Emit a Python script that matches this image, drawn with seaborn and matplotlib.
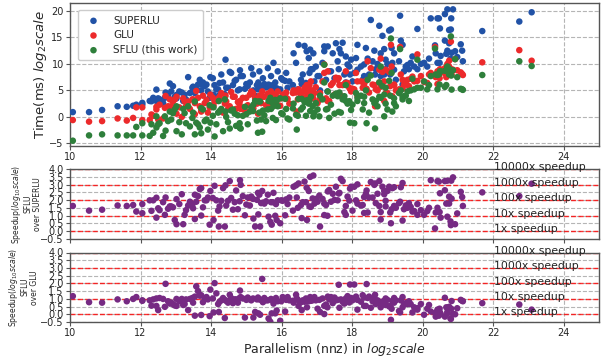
import numpy as np
import pandas as pd
import matplotlib
matplotlib.use("Agg")
import matplotlib.pyplot as plt
import seaborn as sns

# ---- data: log2(nnz) and log2(time ms) per matrix, grouped by parallelism range ----
x_ab = [10.08, 10.54, 10.91, 11.35, 11.61, 11.79, 11.88, 12.05, 12.05, 12.26, 12.31, 12.36, 12.45, 12.45, 12.50, 12.54, 12.64, 12.69, 12.71,
        12.78, 12.83, 12.87, 12.92, 12.97, 13.02, 13.02, 13.10, 13.17, 13.21, 13.25, 13.29, 13.35, 13.40, 13.47]
superlu_ab = [0.9, 0.9, 1.3, 2.0, 1.9, 2.1, 2.3, 2.65, 2.3, 3.0, 2.95, 3.6, 5.15, 3.0, 3.5, 3.3, 2.6, 3.6, 4.6,
              4.0, 6.3, 4.8, 5.8, 3.8, 4.15, 3.5, 4.8, 4.6, 3.0, 4.2, 3.3, 7.5, 4.5, 5.5]
glu_ab = [-0.6, -0.9, -0.8, -0.3, -0.7, -0.2, 1.8, 1.8, -0.6, -0.6, 0.45, 0.2, 1.4, 1.9, -0.5, 2.3, -0.3, 1.7, 3.95,
          2.0, 3.3, 2.0, 2.9, 3.3, 0.6, 3.8, 1.8, 0.0, 3.5, 2.9, 2.0, 2.9, 1.5, 3.3]
sflu_ab = [-4.5, -3.5, -3.3, -3.5, -3.5, -3.5, -1.9, -1.2, -3.5, -3.6, -1.4, -3.0, -2.0, 0.1, -1.4, -1.2, -3.6, 0.1, -2.6,
           -0.8, 1.0, -0.5, 0.7, 1.4, -2.7, 2.0, -1.0, -3.3, 1.5, 0.7, -1.2, 2.0, -1.8, -0.2]

x_c1 = [13.49, 13.54, 13.54, 13.58, 13.63, 13.68, 13.72, 13.72, 13.77, 13.82, 13.87, 13.91, 13.96, 13.98, 14.05, 14.07, 14.10, 14.15, 14.20, 14.22,
        14.24, 14.29, 14.34, 14.39, 14.41, 14.43, 14.48, 14.53, 14.57, 14.62, 14.67, 14.71, 14.76, 14.81, 14.82, 14.84, 14.90, 14.96, 15.00]
superlu_c1 = [5.7, 5.5, 4.5, 5.2, 6.1, 7.0, 6.1, 5.0, 6.5, 5.8, 6.1, 4.8, 3.6, 7.5, 7.3, 4.2, 6.0, 5.2, 5.2, 4.0,
              6.4, 8.0, 6.5, 4.3, 10.8, 5.5, 5.5, 8.5, 8.3, 6.0, 6.8, 7.0, 5.0, 5.2, 8.8, 7.7, 7.7, 5.3, 6.2]
glu_c1 = [3.3, 2.6, 0.5, 4.9, 3.6, 2.0, 1.0, 1.5, 4.0, 2.6, 3.2, 0.8, 1.8, 4.2, 3.6, 2.2, 3.0, 3.1, 3.0, 3.5,
          3.8, 4.5, 0.8, 2.5, 4.0, 2.9, 1.5, 2.0, 4.7, 3.8, 3.8, 1.5, 2.8, 2.3, 3.0, 1.5, 3.6, 1.2, 3.6]
sflu_c1 = [0.8, 2.9, -3.3, -1.1, -1.4, -2.0, -3.1, 1.65, 1.4, -0.8, -0.5, -2.4, 2.2, -1.1, 0.2, 1.8, -3.7, -1.4, 0.8, 3.0,
           1.1, 1.5, -2.7, 3.3, 1.0, 0.0, -1.0, -2.2, 1.2, 1.4, 0.6, -1.7, 0.3, -1.2, -2.1, -2.2, 0.2, 1.9, 0.5]

x_c2 = [15.04, 15.10, 15.14, 15.19, 15.20, 15.25, 15.30, 15.33, 15.34, 15.37, 15.39, 15.42, 15.45, 15.47, 15.51, 15.56, 15.61, 15.63, 15.68, 15.70,
        15.72, 15.75, 15.77, 15.82, 15.84, 15.86, 15.89, 15.96, 15.99, 16.03, 16.10, 16.13, 16.17, 16.22, 16.32, 16.34, 16.41, 16.43, 16.46, 16.48,
        16.55, 16.57, 16.60, 16.65, 16.69, 16.71, 16.72, 16.77, 16.79, 16.81, 16.83, 16.88, 16.90, 16.93, 16.97, 17.02]
superlu_c2 = [5.8, 6.5, 9.2, 8.0, 5.0, 4.0, 6.0, 5.2, 6.5, 8.6, 3.9, 5.5, 5.8, 7.3, 6.2, 5.6, 9.2, 6.1, 5.6, 7.7,
              4.2, 6.0, 10.2, 6.5, 5.2, 5.4, 8.6, 5.2, 7.3, 7.0, 6.8, 8.3, 5.5, 6.7, 6.0, 12.0, 10.2, 4.8, 5.2, 13.6,
              7.0, 6.2, 8.0, 13.4, 6.4, 12.4, 5.5, 11.1, 8.3, 12.7, 9.0, 9.0, 12.0, 6.7, 9.5, 7.7]
glu_c2 = [2.2, 4.2, 4.8, 4.5, 1.6, 3.5, 2.5, 0.6, 3.1, 4.0, 2.8, 2.6, 4.8, 3.8, 3.8, 2.2, 4.4, 2.1, 2.0, 4.8,
          3.0, 2.7, 4.3, 3.4, 2.9, 3.8, 4.8, 2.1, 3.5, 4.2, 4.0, 4.6, 3.4, 2.5, 4.5, 5.0, 4.6, 1.0, 3.3, 5.2,
          4.0, 4.3, 4.8, 5.5, 3.6, 6.0, 4.6, 5.3, 6.0, 4.8, 6.7, 5.0, 3.5, 4.5, 5.6, 2.6]
sflu_c2 = [-1.4, 1.0, 1.8, 1.1, 2.3, 3.0, -0.7, -3.0, 2.9, 0.8, 2.9, -0.5, -2.8, 1.2, 0.3, -0.8, 1.4, 3.0, 3.6, 1.5,
           2.8, -0.2, 2.0, 3.2, -0.6, 3.0, 2.0, 3.5, 0.7, 0.5, 3.4, 1.5, -0.3, -0.5, 1.6, 2.5, 0.4, -2.4, 0.2, 3.4,
           1.4, 3.4, 1.8, 2.8, 0.2, 3.1, 3.1, 2.5, 3.0, 1.1, 3.8, 2.0, 0.1, 0.8, 2.6, 1.4]

x_d1 = [17.07, 17.09, 17.16, 17.21, 17.21, 17.26, 17.30, 17.31, 17.35, 17.40, 17.45, 17.50, 17.54, 17.59, 17.62, 17.64, 17.68, 17.73, 17.78, 17.82,
        17.82, 17.87, 17.92, 17.94, 17.97, 18.01, 18.06, 18.11, 18.15, 18.15, 18.25, 18.30, 18.34, 18.34, 18.39, 18.41, 18.44, 18.48]
superlu_d1 = [7.7, 5.0, 10.2, 12.4, 13.3, 7.0, 4.8, 13.3, 8.6, 8.6, 12.0, 7.3, 13.9, 10.5, 9.0, 12.8, 12.0, 14.0, 8.0, 11.4,
              6.5, 9.9, 9.5, 8.0, 10.8, 6.7, 8.3, 11.1, 13.6, 8.9, 9.5, 7.0, 9.9, 7.7, 13.0, 7.5, 11.0, 8.0]
glu_d1 = [3.2, 4.5, 6.7, 8.3, 9.9, 3.5, 3.0, 8.6, 3.0, 6.0, 6.4, 4.2, 7.4, 7.0, 7.3, 6.0, 4.0, 6.0, 6.2, 8.6,
          6.4, 6.4, 5.5, 5.3, 4.8, 5.3, 5.2, 8.3, 6.7, 4.0, 6.7, 5.5, 6.2, 5.6, 6.8, 5.3, 10.5, 4.6]
sflu_d1 = [0.1, 4.0, 3.3, 6.5, 9.85, 1.4, 1.5, 4.8, -0.2, 2.3, 4.0, 0.6, 4.4, 3.9, 0.95, 4.6, 0.8, 3.3, 3.9, 6.0,
           3.0, 2.5, 2.96, -1.1, 1.3, 2.3, -1.2, 4.5, 3.6, 3.0, 4.0, 1.4, 2.6, 3.8, 5.0, -1.2, 7.0, 0.8]

x_d2 = [18.53, 18.58, 18.63, 18.65, 18.67, 18.72, 18.77, 18.77, 18.81, 18.81, 18.86, 18.91, 18.91, 18.95, 18.95, 19.00, 19.05, 19.08, 19.10, 19.12,
        19.14, 19.19, 19.19, 19.24, 19.33, 19.36, 19.38, 19.43, 19.43, 19.47, 19.52, 19.57, 19.61, 19.66, 19.71, 19.76, 19.85, 19.85, 19.95, 20.04,
        20.13, 20.18, 20.23, 20.35, 20.37, 20.42, 20.42]
superlu_d2 = [18.3, 10.5, 12.5, 8.0, 9.0, 10.0, 17.2, 9.2, 7.7, 12.0, 15.3, 12.8, 8.0, 10.8, 9.0, 10.0, 16.3, 8.0, 16.5, 13.0,
              10.2, 12.0, 8.9, 7.0, 10.5, 19.1, 14.4, 13.6, 6.1, 8.6, 9.5, 9.8, 9.0, 10.2, 11.4, 9.5, 16.6, 9.0, 10.0, 10.2,
              9.5, 11.0, 18.6, 13.5, 12.0, 18.6, 10.2]
glu_d2 = [9.2, 6.1, 6.0, 2.0, 5.2, 5.0, 8.9, 6.5, 5.7, 11.0, 8.5, 6.7, 3.0, 8.9, 4.5, 4.5, 8.5, 5.8, 13.6, 9.5,
          3.9, 6.1, 6.0, 5.0, 5.2, 13.2, 8.0, 7.0, 5.3, 6.0, 6.4, 7.0, 5.8, 7.2, 7.6, 6.7, 11.8, 6.8, 7.7, 6.6,
          6.4, 8.0, 8.3, 13.2, 7.5, 8.6, 6.2]
sflu_d2 = [7.8, 3.3, 2.6, -2.2, 3.0, 2.0, 6.5, 3.8, 3.6, 9.5, 5.8, 4.2, 0.1, 5.5, 2.5, 1.4, 6.8, 4.0, 14.8, 8.3,
           1.0, 2.6, 3.5, 2.0, 4.5, 12.8, 5.0, 3.3, 3.8, 3.9, 4.0, 4.8, 3.0, 5.0, 7.2, 5.2, 10.8, 5.5, 5.5, 6.7,
           5.2, 6.0, 7.7, 12.9, 8.0, 7.9, 5.2]

x_e = [20.46, 20.48, 20.49, 20.51, 20.63, 20.63, 20.67, 20.70, 20.70, 20.75, 20.75, 20.79, 20.80, 20.81, 20.82, 20.86, 20.92, 20.98, 21.08, 21.12,
       21.14, 21.69, 22.74, 23.09]
superlu_e = [18.6, 10.2, 16.7, 11.5, 19.4, 14.4, 11.9, 20.3, 12.5, 16.4, 13.9, 11.0, 16.5, 18.6, 12.1, 20.3, 12.4, 11.3, 13.7, 12.5,
             10.5, 16.2, 18.0, 19.75]
glu_e = [7.7, 7.3, 9.0, 8.7, 8.2, 9.2, 7.5, 10.0, 9.6, 10.6, 9.5, 8.0, 14.2, 9.0, 8.0, 8.9, 10.9, 8.8, 8.4, 8.1,
         7.9, 10.3, 12.6, 10.6]
sflu_e = [8.0, 6.1, 8.6, 8.6, 8.7, 5.65, 6.0, 9.5, 9.4, 9.0, 8.0, 8.9, 15.2, 7.8, 5.15, 8.8, 10.9, 7.5, 5.3, 5.2,
          5.1, 7.9, 10.5, 9.6]

speedup_levels = [0, 1, 2, 3, 4]
speedup_texts = ["1x speedup", "10x speedup", "100x speedup", "1000x speedup", "10000x speedup"]

groups = [(x_ab, superlu_ab, glu_ab, sflu_ab), (x_c1, superlu_c1, glu_c1, sflu_c1),
          (x_c2, superlu_c2, glu_c2, sflu_c2), (x_d1, superlu_d1, glu_d1, sflu_d1),
          (x_d2, superlu_d2, glu_d2, sflu_d2), (x_e, superlu_e, glu_e, sflu_e)]
for g in groups:
    assert len(set(len(a) for a in g)) == 1, [len(a) for a in g]

df = pd.DataFrame({
    "x": sum([g[0] for g in groups], []),
    "superlu": sum([g[1] for g in groups], []),
    "glu": sum([g[2] for g in groups], []),
    "sflu": sum([g[3] for g in groups], []),
})
# speedup in log10 scale derived from log2 times
df["sp_superlu"] = (df["superlu"] - df["sflu"]) * np.log10(2)
df["sp_glu"] = (df["glu"] - df["sflu"]) * np.log10(2)

sns.set_style("white")
plt.rcParams["font.family"] = ["DejaVu Sans"]
plt.rcParams["mathtext.fontset"] = "dejavusans"

BLUE, RED, GREEN, PURPLE = "#2152a6", "#ec2a2b", "#2e7f3b", "#762a83"
W, H = 605, 358
fig = plt.figure(figsize=(W / 100, H / 100), dpi=100)
ax1 = fig.add_axes([70 / W, (H - 146) / H, 529 / W, 143 / H])
ax2 = fig.add_axes([70 / W, (H - 239) / H, 529 / W, 70 / H])
ax3 = fig.add_axes([70 / W, (H - 322) / H, 529 / W, 69.5 / H])

kw = dict(s=22, edgecolor="none", linewidth=0, zorder=3)
sns.scatterplot(data=df, x="x", y="superlu", ax=ax1, color=BLUE, label="SUPERLU", **kw)
sns.scatterplot(data=df, x="x", y="glu", ax=ax1, color=RED, label="GLU", **kw)
sns.scatterplot(data=df, x="x", y="sflu", ax=ax1, color=GREEN, label="SFLU (this work)", **kw)
sns.scatterplot(data=df, x="x", y="sp_superlu", ax=ax2, color=PURPLE, legend=False, **kw)
sns.scatterplot(data=df, x="x", y="sp_glu", ax=ax3, color=PURPLE, legend=False, **kw)

for ax in (ax1, ax2, ax3):
    ax.set_xlim(10, 25)
    ax.set_xticks(np.arange(10, 25, 2))
    ax.grid(True, color="#b5b5b5", linestyle="--", linewidth=0.8, zorder=0)
    ax.set_axisbelow(True)
    for sp in ax.spines.values():
        sp.set_color("#555555")
        sp.set_linewidth(1.0)
    ax.tick_params(axis="both", which="major", labelsize=7, length=3, width=0.8,
                   color="#555555", pad=1.5, bottom=True, left=True)
    ax.set_xlabel("")

ax1.set_ylim(-5.5, 21.5)
ax1.set_yticks([-5, 0, 5, 10, 15, 20])
ax1.set_ylabel("Time(ms) $log_{2}scale$", fontsize=9.5)
ax1.yaxis.set_label_coords(-0.04, 0.5)
ax1.legend(loc="upper left", bbox_to_anchor=(0.005, 0.985), fontsize=7.5, frameon=True,
           edgecolor="#cccccc", framealpha=1, borderpad=0.5, labelspacing=0.45,
           handletextpad=0.9, markerscale=1.0)

for ax, lab, lx in ((ax2, "Speedup($log_{10}scale$)\nSFLU\nover SUPERLU", -0.052),
                    (ax3, "Speedup($log_{10}scale$)\nSFLU\nover GLU", -0.058)):
    ax.set_ylim(-0.5, 4.0)
    ax.set_yticks(np.arange(-0.5, 4.01, 0.5))
    ax.set_yticklabels([f"{v:.1f}".replace("-", "\u2212") for v in np.arange(-0.5, 4.01, 0.5)])
    ax.tick_params(axis="y", labelsize=7)
    for lv, txt in zip(speedup_levels, speedup_texts):
        ax.axhline(lv, color="red", linestyle="--", linewidth=1.0, alpha=0.8, zorder=1)
        ax.text(22.02, lv + 0.12, txt, fontsize=7.8, va="center", ha="left", color="#222222")
    ax.set_ylabel(lab, fontsize=5.5, linespacing=1.1)
    ax.yaxis.set_label_coords(lx, 0.5)

ax2.set_xticklabels([])
ax1.set_xlabel("")
ax3.set_xlabel("Parallelism (nnz) in $log_{2}scale$", fontsize=9, labelpad=2)

fig.savefig("out.png", dpi=100)
